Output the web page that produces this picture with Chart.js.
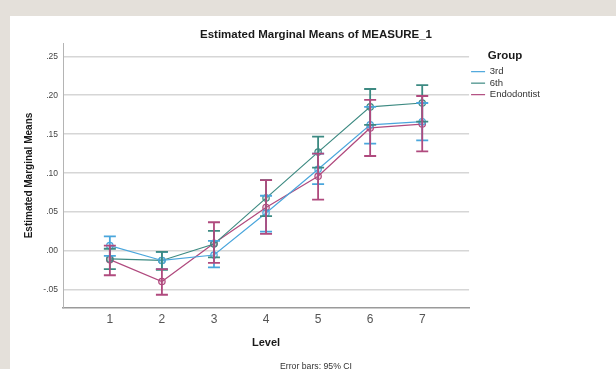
<!DOCTYPE html>
<html>
<head>
<meta charset="utf-8">
<script src="https://cdn.jsdelivr.net/npm/chart.js@4/dist/chart.umd.min.js"></script>
<style>
  body { margin: 0; background: #e4e0da; width: 616px; height: 369px; overflow: hidden; }
  #panel { position: absolute; left: 10px; top: 16px; width: 606px; height: 353px; background: #fff; }
</style>
</head>
<body>
<div id="panel"><canvas id="emmChart" width="606" height="353"></canvas></div>
<script>
// Faktör seviyeleri ve gruplar
const levels = [1, 2, 3, 4, 5, 6, 7];
const groups = ['3rd', '6th', 'Endodontist'];

// Ortalamalar ve %95 güven aralıkları
const mean3rd = [0.007, -0.012, -0.005, 0.049, 0.105, 0.162, 0.166];
const low3rd  = [-0.006, -0.023, -0.021, 0.025, 0.086, 0.138, 0.142];
const high3rd = [0.019, -0.001, 0.013, 0.071, 0.125, 0.185, 0.190];

const mean6th = [-0.010, -0.012, 0.009, 0.068, 0.127, 0.185, 0.190];
const low6th  = [-0.023, -0.024, -0.008, 0.045, 0.107, 0.162, 0.166];
const high6th = [0.003, -0.001, 0.026, 0.091, 0.147, 0.208, 0.213];

const meanEndo = [-0.011, -0.039, 0.010, 0.056, 0.096, 0.158, 0.163];
const lowEndo  = [-0.031, -0.056, -0.015, 0.022, 0.066, 0.122, 0.128];
const highEndo = [0.007, -0.023, 0.037, 0.091, 0.125, 0.194, 0.199];

const yTicks = [-0.05, 0, 0.05, 0.10, 0.15, 0.20, 0.25];

const colors = ['#4aa6dc', '#3d8a82', '#b04a7e'];
const means = [mean3rd, mean6th, meanEndo];
const lows = [low3rd, low6th, lowEndo];
const highs = [high3rd, high6th, highEndo];

const FONT = '"Liberation Sans", Arial, sans-serif';

// Hata çubuklarını ölçekler üzerinden çizen eklenti
const errorBars = {
    id: 'errorBars',
    afterDatasetsDraw(chart) {
        const ctx = chart.ctx;
        const xs = chart.scales.x, ys = chart.scales.y;
        groups.forEach((g, d) => {
            ctx.save();
            ctx.strokeStyle = colors[d];
            ctx.lineWidth = 1.8;
            levels.forEach((lv, i) => {
                const x = xs.getPixelForValue(lv);
                const yl = ys.getPixelForValue(lows[d][i]);
                const yh = ys.getPixelForValue(highs[d][i]);
                ctx.beginPath();
                ctx.moveTo(x, yl); ctx.lineTo(x, yh);
                ctx.moveTo(x - 6, yl); ctx.lineTo(x + 6, yl);
                ctx.moveTo(x - 6, yh); ctx.lineTo(x + 6, yh);
                ctx.stroke();
            });
            ctx.restore();
        });
    }
};

// Başlık ve alt yazıyı tüm tuval genişliğine göre ortala (sağdaki lejant payını yok say)
const centerTitles = {
    id: 'centerTitles',
    afterLayout(chart) {
        chart.boxes.forEach(b => {
            if (b.fullSize && !b.axis && (b.options.position === 'top' || b.options.position === 'bottom')) {
                b.left = 6;
                b.right = chart.width;
                b.width = b.right - b.left;
            }
        });
        // "Group" başlığını biraz sola çek
        if (chart.legend) {
            chart.legend.width -= 9;
            chart.legend.right -= 9;
        }
    }
};

const datasets = groups.map((g, d) => ({
    label: g,
    data: levels.map((lv, i) => ({ x: lv, y: means[d][i] })),
    borderColor: colors[d],
    backgroundColor: colors[d] + '33',
    borderWidth: 1.2,
    pointRadius: 3.2,
    pointBorderWidth: 1.2,
    pointBorderColor: colors[d],
    pointBackgroundColor: colors[d] + '33',
    tension: 0
}));

new Chart(document.getElementById('emmChart'), {
    type: 'line',
    data: { datasets: datasets },
    plugins: [errorBars, centerTitles],
    options: {
        responsive: false,
        animation: false,
        devicePixelRatio: 1,
        layout: { padding: { left: 0, right: 66, top: 0, bottom: 0 } },
        plugins: {
            tooltip: { enabled: false },
            title: {
                display: true,
                text: 'Estimated Marginal Means of MEASURE_1',
                color: '#1a1a1a',
                font: { family: FONT, size: 11.5, weight: 'bold' },
                padding: { top: 12.2, bottom: 1 }
            },
            subtitle: {
                display: true,
                position: 'bottom',
                text: 'Error bars: 95% CI',
                color: '#333',
                font: { family: FONT, size: 8.7, lineHeight: 1 },
                padding: { top: 6, bottom: -2 }
            },
            legend: {
                position: 'right',
                align: 'start',
                fullSize: false,
                title: {
                    display: true,
                    text: 'Group',
                    position: 'center',
                    color: '#1a1a1a',
                    font: { family: FONT, size: 11.5, weight: 'bold' },
                    padding: { top: 7.2, bottom: 0.9 }
                },
                labels: {
                    usePointStyle: true,
                    pointStyle: 'line',
                    pointStyleWidth: 14,
                    boxHeight: 9,
                    padding: 2,
                    color: '#333',
                    font: { family: FONT, size: 9.5 }
                }
            }
        },
        scales: {
            x: {
                type: 'linear',
                min: 0.1,
                max: 7.9,
                afterBuildTicks: s => { s.ticks = levels.map(v => ({ value: v })); },
                afterFit: s => { s.height = 48.3; },
                grid: { display: false, drawTicks: false },
                border: { display: true, color: '#9a9a9a', width: 1.5 },
                ticks: {
                    padding: 4,
                    color: '#555',
                    font: { family: FONT, size: 12 },
                    callback: v => String(v)
                },
                title: {
                    display: true,
                    text: 'Level',
                    color: '#1a1a1a',
                    font: { family: FONT, size: 11, weight: 'bold' },
                    padding: { top: 0, bottom: 6.7 }
                }
            },
            y: {
                min: -0.073,
                max: 0.267,
                afterBuildTicks: s => { s.ticks = yTicks.map(v => ({ value: v })); },
                afterFit: s => { s.width = 53; },
                grid: { color: '#d6d6d6', lineWidth: 1.5, drawTicks: false },
                border: { display: true, color: '#b4b4b4', width: 1 },
                ticks: {
                    padding: 5,
                    color: '#444',
                    font: { family: FONT, size: 8.5 },
                    callback: v => v.toFixed(2).replace('0.', '.')
                },
                title: {
                    display: true,
                    text: 'Estimated Marginal Means',
                    color: '#1a1a1a',
                    font: { family: FONT, size: 10, weight: 'bold' },
                    padding: { top: 13, bottom: 0 }
                }
            }
        }
    }
});
</script>
</body>
</html>
